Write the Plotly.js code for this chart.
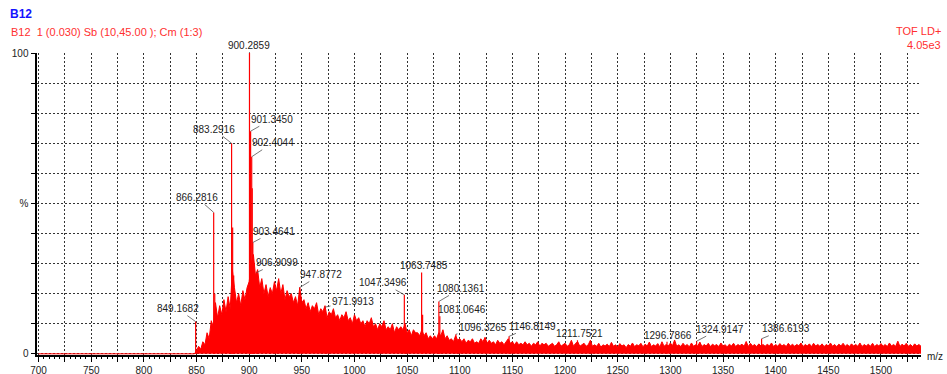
<!DOCTYPE html>
<html>
<head>
<meta charset="utf-8">
<script src="https://cdn.plot.ly/plotly-3.0.1.min.js"></script>
<style>
html,body{margin:0;padding:0;background:#fff;}
#chart{width:947px;height:374px;}
</style>
</head>
<body>
<div id="chart"></div>
<script>
// ---------- DATA ----------
// baseline before the signal starts
const baselineMz = [700, 846];
const baselineI = [0, 0];

// noisy continuum, sampled every 2 m/z starting at 848 (relative intensity %)
const noiseStart = 848;
const noiseStep = 2;
const noiseI = [
  0, 1, 2.5, 1.5, 4, 3, 7, 5, 11, 9,
  17, 12, 16, 13, 18, 14, 19, 15, 28, 22,
  17, 20, 16, 21, 18, 22, 24, 30, 33, 26,
  28, 22, 25, 20, 23, 19, 22, 20, 24, 21,
  25, 20, 23, 18, 21, 19, 20, 17, 19, 16,
  22, 17, 18, 15, 17, 14, 16, 15, 17, 13,
  15, 14, 16, 12, 14, 13, 15, 12, 13, 11,
  13, 12, 14, 11, 12, 10, 13, 11, 12, 10,
  11, 9, 11, 10, 12, 9, 10, 8, 10, 9,
  11, 8, 9, 8, 10, 7, 9, 8, 9, 8,
  10, 7, 8, 6, 8, 7, 7, 6, 8, 6,
  7, 5, 6, 5, 6, 5, 7, 6, 8, 5,
  6, 4.5, 5, 4, 6, 4.5, 5, 4, 5, 3.5,
  4.5, 4, 5, 3.5, 4, 3.5, 5, 4, 5.5, 3.5,
  4.5, 3.5, 4, 3, 4.5, 3.5, 4, 3, 4, 5,
  3.5, 4, 3, 4, 3, 3.5, 3, 4, 3, 3.5,
  2.5, 3.5, 3, 4, 2.5, 3.5, 3, 3.5, 2.5, 3,
  3.5, 2.5, 3, 4, 2.5, 3, 3.5, 2.5, 3, 4.5,
  2.5, 3.5, 4, 2.5, 3, 3.5, 2.5, 3, 4.5, 2.5,
  3, 2.5, 3.5, 2.2, 3, 2.6, 3.2, 2.4, 3.8, 2.5,
  3, 2.2, 3.4, 2.6, 3, 2, 3.1, 2.5, 3.6, 2.4,
  3, 2.7, 3.5, 2.3, 3.2, 2.6, 3.9, 2.4, 3, 2.6,
  3.4, 2.3, 4, 2.5, 3.1, 2.6, 3.6, 2.7, 4.6, 2.5,
  3, 2.4, 3.5, 2.6, 3.1, 2.3, 3.6, 2.5, 3, 2.6,
  3.9, 2.4, 3.1, 2.6, 3.5, 2.4, 3.2, 2.7, 3.1, 2.4,
  3.6, 2.6, 3, 2.3, 3.2, 2.6, 3.5, 2.4, 3.1, 2.7,
  3.2, 2.5, 4.1, 2.4, 3.5, 2.6, 3.1, 2.4, 3.3, 2.6,
  3.1, 2.5, 3.2, 2.6, 3.6, 2.4, 3.1, 2.5, 3.4, 2.6,
  3.1, 2.4, 3.5, 2.6, 3.2, 2.5, 3.1, 2.7, 3.6, 2.4,
  3.1, 2.6, 3.3, 2.4, 3.5, 2.6, 3.1, 2.5, 3.3, 2.4,
  3.1, 2.6, 3.6, 2.5, 3.1, 2.4, 3.2, 2.6, 3.5, 2.5,
  3.1, 2.4, 3.3, 2.6, 3.1, 2.5, 3.6, 2.4, 3.1, 2.6,
  3.2, 2.5, 3.5, 2.4, 3.1, 2.6, 3.4, 2.5, 3.1, 2.4,
  3.6, 2.6, 3.1, 2.5, 4.2, 2.4, 3.2, 2.6, 3.5, 2.5,
  3.1, 2.4, 3.3, 2.6, 3.1, 2.5
];

// discrete peaks (m/z, relative intensity %)
const peakMz = [849.1682, 866.2816, 867.3, 883.2916, 884.3, 885.3, 900.2859, 901.3450,
  902.4044, 902.9, 903.4641, 904.5, 906.9099, 947.8772, 971.9913, 1047.3496,
  1063.7485, 1064.7, 1080.1361, 1081.0646, 1096.3265, 1146.8149, 1211.7521,
  1296.7866, 1324.9147, 1386.6193];
const peakI = [10.7, 47, 20, 70, 42, 26, 100, 74,
  65.5, 55, 37, 30, 27, 22, 15.5, 19.6,
  27, 13, 17.4, 12.5, 6.5, 5.8, 4.5,
  4, 4.2, 5];

// labelled peaks
const labelMz = [849.1682, 866.2816, 883.2916, 900.2859, 901.3450, 902.4044, 903.4641,
  906.9099, 947.8772, 971.9913, 1047.3496, 1063.7485, 1080.1361, 1081.0646,
  1096.3265, 1146.8149, 1211.7521, 1296.7866, 1324.9147, 1386.6193];
const labelI = [10.7, 47, 70, 100, 74, 65.5, 37,
  27, 22, 15.5, 19.6, 27, 17.4, 12.5,
  6.5, 5.8, 4.5, 4, 4.2, 5];

// axis ticks
const xTickVals = [];
for (let v = 700; v <= 1525; v += 25) xTickVals.push(v);
const xTickText = xTickVals.map(v => (v % 50 === 0 ? String(v) : ''));
const yTickVals = [0, 10, 20, 30, 40, 50, 60, 70, 80, 90, 100];
const yTickText = ['0', '', '', '', '', '%', '', '', '', '', '100'];

// ---------- STYLE / LAYOUT ----------
const labelDx = [-18, -17, -18, 0, 21, 21, 21, 21, 21, 28, -21, 2, 22, 22, 27, 23, 2, 1, 23, 24];
const labelDy = [-13, -15, -14, -8, -12, -14, -11, -10, -13, -6, -12, -7, -13, -7, -7, -10, -7, -6, -12, -10];

const W = 947, H = 374;
const M = {l: 37, r: 26, t: 53, b: 19};
const pw = W - M.l - M.r, ph = H - M.t - M.b;
const px2x = p => (p - M.l) / pw;
const py2y = p => (H - M.b - p) / ph;

const RED = '#ff0000';
const FONT = 'Liberation Sans, Arial, sans-serif';

const contMz = baselineMz.concat(noiseI.map((_, i) => noiseStart + i * noiseStep));
const contI = baselineI.concat(noiseI);

const stickX = [], stickY = [];
peakMz.forEach((m, i) => { stickX.push(m, m, null); stickY.push(0, peakI[i], null); });

const traces = [
  {x: contMz, y: contI, type: 'scatter', mode: 'lines', fill: 'tozeroy',
   fillcolor: RED, line: {color: RED, width: 1}, hoverinfo: 'skip'},
  {x: stickX, y: stickY, type: 'scatter', mode: 'lines',
   line: {color: RED, width: 1.2}, hoverinfo: 'skip'}
];

const annotations = labelMz.map((m, i) => ({
  x: m, y: labelI[i], xref: 'x', yref: 'y',
  text: m.toFixed(4), showarrow: true, arrowhead: 0, arrowwidth: 0.8,
  arrowcolor: '#555', ax: labelDx[i], ay: labelDy[i], standoff: 0,
  font: {family: FONT, size: 10, color: '#222'}
}));

const pText = (t, x, y, anchor, size, color, bold) => ({
  xref: 'paper', yref: 'paper', x: px2x(x), y: py2y(y), xanchor: anchor, yanchor: 'middle',
  showarrow: false, text: bold ? '<b>' + t + '</b>' : t,
  font: {family: FONT, size: size, color: color}
});
annotations.push(pText('B12', 8, 14, 'left', 12, '#1414ff', true));
annotations.push(pText('B12  1 (0.030) Sb (10,45.00 ); Cm (1:3)', 9, 32, 'left', 11, '#ff3030', false));
annotations.push(pText('TOF LD+', 943, 31, 'right', 11, '#ff3030', false));
annotations.push(pText('4.05e3', 943, 45, 'right', 11, '#ff3030', false));
annotations.push(pText('m/z', 925, 356, 'left', 10, '#222', false));

const layout = {
  width: W, height: H,
  margin: M,
  paper_bgcolor: '#fff', plot_bgcolor: '#fff',
  showlegend: false,
  font: {family: FONT, size: 10, color: '#222'},
  xaxis: {
    range: [698.5, 1538], tickmode: 'array', tickvals: xTickVals, ticktext: xTickText,
    showgrid: true, gridcolor: '#333', griddash: '2px,2px', gridwidth: 1,
    showline: true, linecolor: '#000', linewidth: 1.5,
    ticks: 'outside', ticklen: 5, tickcolor: '#000', tickwidth: 1,
    minor: {dtick: 5, tick0: 700, ticks: 'outside', ticklen: 2, tickcolor: '#000', showgrid: false},
    zeroline: false, tickfont: {family: FONT, size: 10, color: '#222'}
  },
  yaxis: {
    range: [-0.4, 100], tickmode: 'array', tickvals: yTickVals, ticktext: yTickText,
    showgrid: true, gridcolor: '#333', griddash: '2px,2px', gridwidth: 1,
    showline: true, linecolor: '#000', linewidth: 2.5,
    ticks: 'outside', ticklen: 4, tickcolor: '#000', tickwidth: 1,
    zeroline: false, tickfont: {family: FONT, size: 10, color: '#222'}
  },
  annotations: annotations
};

Plotly.newPlot('chart', traces, layout, {staticPlot: true, displayModeBar: false});
</script>
</body>
</html>
